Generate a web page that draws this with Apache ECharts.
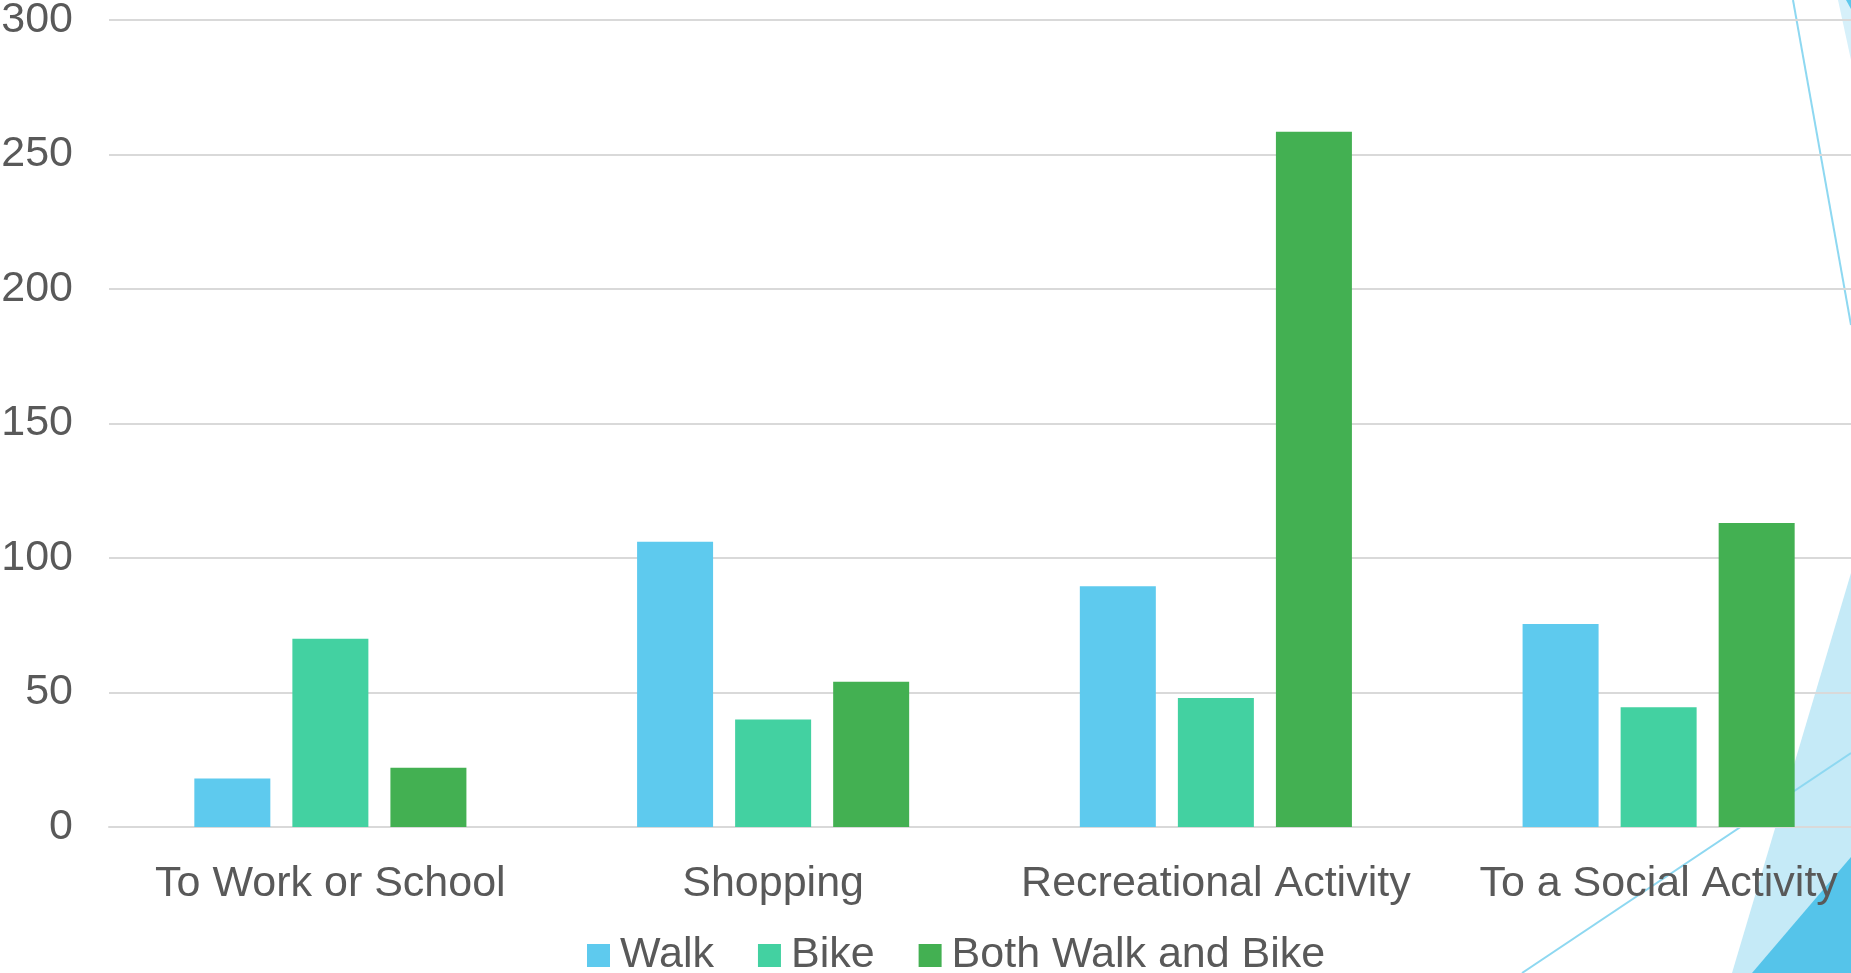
<!DOCTYPE html>
<html>
<head>
<meta charset="utf-8">
<script src="https://cdn.jsdelivr.net/npm/echarts@6/dist/echarts.min.js"></script>
<style>
html,body{margin:0;padding:0;background:#fff;}
#chart{width:1851px;height:973px;}
</style>
</head>
<body>
<div id="chart"></div>
<script>
const categories = ["To Work or School", "Shopping", "Recreational Activity", "To a Social Activity"];
const walk = [18, 106, 89.5, 75.5];
const bike = [70, 40, 48, 44.5];
const both = [22, 54, 258.5, 113];
const seriesNames = ["Walk", "Bike", "Both Walk and Bike"];
const yTicks = { min: 0, max: 300, interval: 50 };

const FONT = "'Liberation Sans', Arial, sans-serif";
const TEXT = "#595959";
const GRID = "#D9D9D9";
const colors = ["#5ECAEE", "#43D1A1", "#43B052"];

const chart = echarts.init(document.getElementById('chart'), null, { renderer: 'canvas' });

function bar(name, data, color) {
  return {
    name: name, type: 'bar', data: data,
    barWidth: 76, barGap: '29%',
    itemStyle: { color: color },
    emphasis: { disabled: true }
  };
}

chart.setOption({
  animation: false,
  backgroundColor: '#ffffff',
  textStyle: { fontFamily: FONT },
  graphic: [
    { type: 'polygon', z: -10, silent: true, shape: { points: [[1838,0],[1851,0],[1851,60]] }, style: { fill: '#D6F0FA' } },
    { type: 'polygon', z: -9, silent: true, shape: { points: [[1846,0],[1851,0],[1851,9]] }, style: { fill: '#5EC8EC' } },
    { type: 'line', z: -9, silent: true, shape: { x1: 1793, y1: 0, x2: 1851, y2: 325 }, style: { stroke: '#8ED8F1', lineWidth: 2 } },
    { type: 'polygon', z: -10, silent: true, shape: { points: [[1732,973],[1851,573],[1851,973]] }, style: { fill: '#C5EAF7' } },
    { type: 'polygon', z: -9, silent: true, shape: { points: [[1752,973],[1851,857],[1851,973]] }, style: { fill: '#55C4EA' } },
    { type: 'line', z: -8, silent: true, shape: { x1: 1522, y1: 973, x2: 1851, y2: 753 }, style: { stroke: '#8ED8F1', lineWidth: 2 } }
  ],
  grid: { left: 109, right: -29, top: 20, bottom: 146, containLabel: false, outerBoundsMode: 'none' },
  legend: {
    data: seriesNames,
    left: 587, top: 934, padding: 0,
    icon: 'rect', itemWidth: 23, itemHeight: 23, itemGap: 44,
    textStyle: { fontSize: 43, color: TEXT, fontFamily: FONT, padding: [0, 0, 0, 5] },
    selectedMode: false
  },
  xAxis: {
    type: 'category', data: categories,
    axisLine: { show: true, lineStyle: { color: GRID, width: 2 } },
    axisTick: { show: false },
    axisLabel: { fontSize: 43, color: TEXT, fontFamily: FONT, margin: 36, interval: 0 },
    splitLine: { show: false }
  },
  yAxis: {
    type: 'value', min: yTicks.min, max: yTicks.max, interval: yTicks.interval,
    axisLine: { show: false }, axisTick: { show: false },
    axisLabel: { fontSize: 43, color: TEXT, fontFamily: FONT, margin: 36 },
    splitLine: { lineStyle: { color: GRID, width: 2 } }
  },
  series: [
    bar(seriesNames[0], walk, colors[0]),
    bar(seriesNames[1], bike, colors[1]),
    bar(seriesNames[2], both, colors[2])
  ]
});
</script>
</body>
</html>
